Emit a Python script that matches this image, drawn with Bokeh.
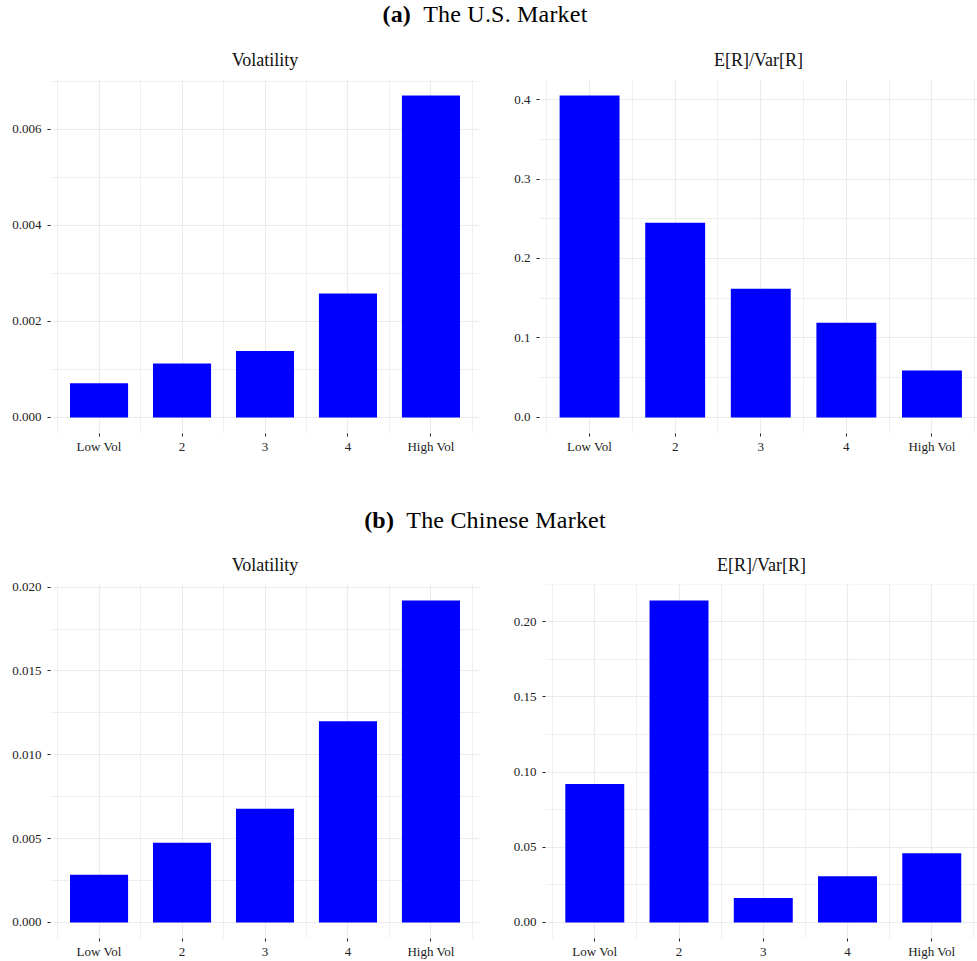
from bokeh.plotting import figure
from bokeh.layouts import column, row
from bokeh.models import Div, FixedTicker, Range1d, NumeralTickFormatter
from bokeh.embed import file_html
from bokeh.resources import INLINE

# ---------------- data ----------------
categories = ["Low Vol", "2", "3", "4", "High Vol"]

us_volatility = [0.00071, 0.00112, 0.00138, 0.00258, 0.00670]
us_ratio = [0.405, 0.245, 0.162, 0.119, 0.059]
cn_volatility = [0.00284, 0.00475, 0.00678, 0.01200, 0.01920]
cn_ratio = [0.092, 0.214, 0.0163, 0.0307, 0.046]

us_vol_ticks = [0.000, 0.002, 0.004, 0.006]
us_ratio_ticks = [0.0, 0.1, 0.2, 0.3, 0.4]
cn_vol_ticks = [0.000, 0.005, 0.010, 0.015, 0.020]
cn_ratio_ticks = [0.00, 0.05, 0.10, 0.15, 0.20]

panel_titles = ["Volatility", "E[R]/Var[R]"]
headings = [("(a)", "The U.S. Market"), ("(b)", "The Chinese Market")]

FONT = "Liberation Serif"
BAR_W = 0.7
GRID = "#EBEBEB"
TXT = "#222222"


def panel(title, values, yticks, fmt, width, left, right, x_end, height, top, bottom, title_offset=0):
    n = len(categories)
    xs = list(range(1, n + 1))
    lo, hi = 1 - BAR_W / 2, n + BAR_W / 2
    x_start = lo - 0.05 * (hi - lo)
    if x_end is None:
        x_end = hi + 0.05 * (hi - lo)
    ymin, ymax = min(0, min(values)), max(values)
    span = ymax - ymin
    p = figure(width=width, height=height, output_backend="svg", toolbar_location=None,
               x_range=Range1d(x_start, x_end),
               y_range=Range1d(ymin - 0.05 * span, ymax + 0.05 * span),
               min_border_left=left, min_border_right=right,
               min_border_top=top, min_border_bottom=bottom,
               title=title)
    p.vbar(x=xs, top=values, bottom=0, width=BAR_W, fill_color="#0000FF", line_color=None)

    p.title.text_font = FONT
    p.title.text_font_size = "18px"
    p.title.text_font_style = "normal"
    p.title.align = "center"
    p.title.text_color = "#111111"
    p.title.standoff = 20
    p.title.offset = title_offset

    p.outline_line_color = None
    p.background_fill_color = "white"
    p.border_fill_color = "white"

    step = yticks[1] - yticks[0]
    yminor = [t + step / 2 for t in yticks]
    p.yaxis.ticker = FixedTicker(ticks=yticks, minor_ticks=yminor)
    p.yaxis.formatter = NumeralTickFormatter(format=fmt)
    p.xaxis.ticker = FixedTicker(ticks=xs, minor_ticks=[i + 0.5 for i in range(0, n + 1)])
    p.xaxis.major_label_overrides = {x: c for x, c in zip(xs, categories)}

    for ax in (p.xaxis[0], p.yaxis[0]):
        ax.axis_line_color = None
        ax.major_tick_line_color = TXT
        ax.major_tick_out = 3
        ax.major_tick_in = 0
        ax.minor_tick_line_color = None
        ax.major_label_text_font = FONT
        ax.major_label_text_font_size = "13px"
        ax.major_label_text_color = TXT
    p.xaxis.major_label_standoff = 1
    p.yaxis.major_label_standoff = 5

    for g in (p.xgrid[0], p.ygrid[0]):
        g.grid_line_color = GRID
        g.grid_line_width = 1.2
        g.minor_grid_line_color = GRID
        g.minor_grid_line_width = 0.8
    return p


def heading(tag, text, height, margin):
    return Div(text=f'<span style="font-weight:bold">{tag}</span>&ensp;{text}',
               width=970, height=height, margin=margin,
               styles={"font-family": FONT, "font-size": "24px", "line-height": "24px",
                       "letter-spacing": "0.2px", "text-align": "center", "color": "#000000"})


div_a = heading(headings[0][0], headings[0][1], 35, (2, 0, 0, 0))
p1 = panel(panel_titles[0], us_volatility, us_vol_ticks, "0.000", 498, 50, 19, None, 471, 42, 75)
p2 = panel(panel_titles[1], us_ratio, us_ratio_ticks, "0.0", 479, 41, 0, 5.532, 471, 42, 75, -4)
div_b = heading(headings[1][0], headings[1][1], 34, (0, 0, 0, 0))
p3 = panel(panel_titles[0], cn_volatility, cn_vol_ticks, "0.000", 498, 50, 19, None, 419, 42, 23)
p4 = panel(panel_titles[1], cn_ratio, cn_ratio_ticks, "0.00", 479, 47, 0, 5.543, 419, 42, 23, -4)

layout = column(div_a, row(p1, p2), div_b, row(p3, p4))

open("out.html", "w").write(file_html(layout, INLINE))
